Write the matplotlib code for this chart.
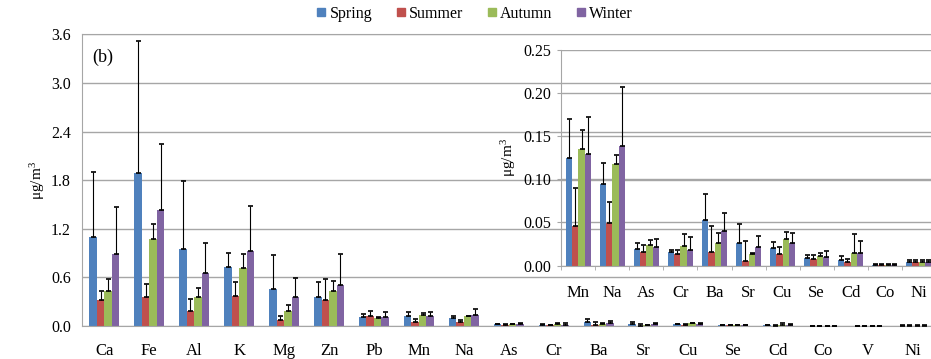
import matplotlib
matplotlib.use("Agg")
import matplotlib.pyplot as plt
import numpy as np
from matplotlib.lines import Line2D

# Plotting parameters:
plt.rcParams['font.family'] = ['Liberation Serif', 'DejaVu Serif']
plt.rcParams['mathtext.fontset'] = 'stix'

# Data: seasonal mean concentrations (ug/m3) and standard deviations
elements = ['Ca', 'Fe', 'Al', 'K', 'Mg', 'Zn', 'Pb', 'Mn', 'Na', 'As', 'Cr',
            'Ba', 'Sr', 'Cu', 'Se', 'Cd', 'Co', 'V', 'Ni']
seasons = ['Spring', 'Summer', 'Autumn', 'Winter']

spring = [1.10, 1.89, 0.95, 0.73, 0.46, 0.36, 0.115, 0.125, 0.095, 0.019, 0.0155,
          0.053, 0.026, 0.020, 0.0085, 0.0066, 0.001, 0.001, 0.004]
spring_sd = [0.80, 1.63, 0.84, 0.17, 0.415, 0.18, 0.035, 0.045, 0.024, 0.007, 0.003,
             0.030, 0.022, 0.0074, 0.004, 0.004, 0.001, 0.001, 0.002]
summer = [0.32, 0.36, 0.185, 0.37, 0.07, 0.32, 0.12, 0.0455, 0.049, 0.0155, 0.0135,
          0.0155, 0.0058, 0.0135, 0.008, 0.0035, 0.001, 0.001, 0.004]
summer_sd = [0.115, 0.16, 0.145, 0.17, 0.05, 0.255, 0.06, 0.0445, 0.025, 0.008, 0.004,
             0.0305, 0.023, 0.0075, 0.004, 0.0043, 0.001, 0.001, 0.002]
autumn = [0.43, 1.07, 0.36, 0.72, 0.19, 0.435, 0.10, 0.135, 0.118, 0.024, 0.0224,
          0.026, 0.0135, 0.031, 0.0108, 0.0147, 0.001, 0.001, 0.004]
autumn_sd = [0.145, 0.19, 0.11, 0.17, 0.07, 0.125, 0.01, 0.022, 0.010, 0.006, 0.0142,
             0.0114, 0.0015, 0.008, 0.004, 0.022, 0.001, 0.001, 0.002]
winter = [0.89, 1.43, 0.66, 0.93, 0.36, 0.51, 0.115, 0.129, 0.138, 0.021, 0.018,
          0.0405, 0.022, 0.026, 0.010, 0.0147, 0.001, 0.001, 0.004]
winter_sd = [0.58, 0.82, 0.37, 0.55, 0.23, 0.38, 0.055, 0.043, 0.069, 0.010, 0.0148,
             0.0205, 0.012, 0.012, 0.0074, 0.0133, 0.001, 0.001, 0.002]

# elements shown in the zoomed inset
inset_elements = ['Mn', 'Na', 'As', 'Cr', 'Ba', 'Sr', 'Cu', 'Se', 'Cd', 'Co', 'Ni']

colors = ['#4F81BD', '#C0504D', '#9BBB59', '#8064A2']
grid_c = '#A6A6A6'

means = [spring, summer, autumn, winter]
sds = [spring_sd, summer_sd, autumn_sd, winter_sd]


def draw_bars(ax, names, width, right):
    idx = [elements.index(n) for n in names]
    x = np.arange(len(names))
    for i in range(4):
        m = np.array(means[i])[idx]
        s = np.array(sds[i])[idx]
        xs = x + (i - 1.5) * width
        ax.bar(xs, m, width, color=colors[i], zorder=2)
        ax.errorbar(xs, m, yerr=[np.zeros_like(s), s], fmt='none', ecolor='black',
                    elinewidth=0.8, capsize=1.8, capthick=1.2, zorder=3)
    ax.set_xticks(x)
    ax.set_xticklabels(names)
    ax.set_xlim(-0.5, len(names) - right)


fig = plt.figure(figsize=(9.31, 3.59), dpi=100)

# main chart
ax = fig.add_axes([0.088, 0.092, 0.912, 0.812])
draw_bars(ax, elements, 0.167, 0.6)
ax.set_ylim(0, 3.6)
ax.set_yticks(np.arange(0, 3.61, 0.6))
ax.set_yticklabels(['%.1f' % v for v in np.arange(0, 3.61, 0.6)])
ax.yaxis.grid(True, color=grid_c, lw=1.0, zorder=0)
ax.set_axisbelow(True)
ax.spines['right'].set_visible(False)
for sp in ['left', 'bottom', 'top']:
    ax.spines[sp].set_color(grid_c)
ax.tick_params(axis='x', length=0, pad=12, labelsize=12)
ax.tick_params(axis='y', length=0, pad=8, labelsize=11.5)
ax.set_ylabel(r'$\mathregular{\mu g/m^3}$', fontsize=11, labelpad=3)
ax.text(0.012, 0.95, '(b)', transform=ax.transAxes, fontsize=13, va='top')

# inset chart
axi = fig.add_axes([0.603, 0.2604, 0.402, 0.6006])
axi.patch.set_alpha(0)
draw_bars(axi, inset_elements, 0.185, 0.5)
axi.set_ylim(0, 0.25)
axi.set_yticks(np.arange(0, 0.251, 0.05))
axi.set_yticklabels(['%.2f' % v for v in np.arange(0, 0.251, 0.05)])
axi.yaxis.grid(True, color=grid_c, lw=1.0, zorder=0)
axi.set_axisbelow(True)
axi.spines['right'].set_visible(False)
axi.spines['top'].set_visible(False)
axi.spines['left'].set_color(grid_c)
axi.spines['bottom'].set_color(grid_c)
axi.set_xticks(np.arange(len(inset_elements)) - 0.5, minor=True)
axi.tick_params(axis='x', which='major', length=0, pad=14, labelsize=12)
axi.tick_params(axis='x', which='minor', length=3, color=grid_c)
axi.tick_params(axis='y', length=3, color=grid_c, pad=4, labelsize=11.5)
axi.set_ylabel(r'$\mathregular{\mu g/m^3}$', fontsize=11, labelpad=4)

# legend
handles = [Line2D([], [], marker='s', ls='none', color=c, markersize=6) for c in colors]
fig.legend(handles, seasons, loc='center', bbox_to_anchor=(0.509, 0.961), ncol=4,
           frameon=False, fontsize=11.5, handletextpad=0.1, columnspacing=1.4,
           handlelength=0.8)

fig.savefig('out.png', dpi=100)
